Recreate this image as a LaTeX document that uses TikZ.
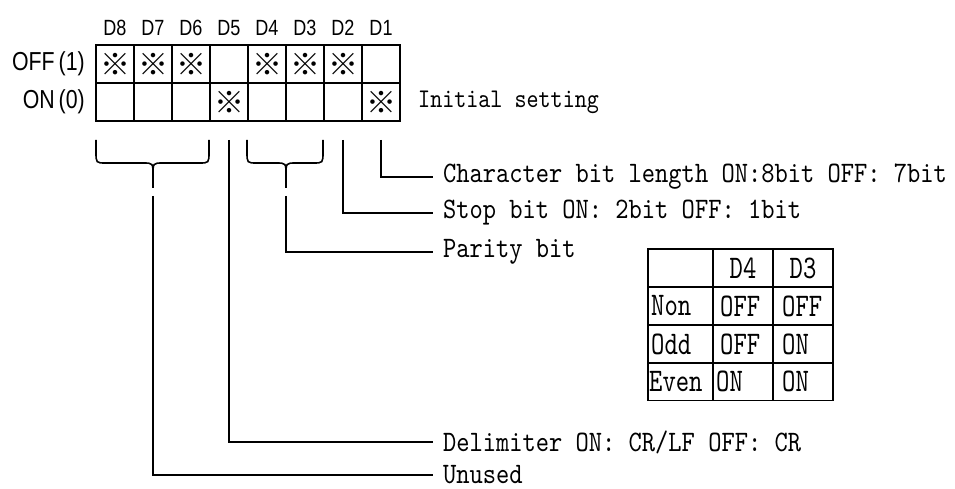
\documentclass[tikz,border=0pt]{standalone}
\usepackage{fontspec}
\setmainfont{lmmono10-regular.otf}
\newfontfamily\lblfont{lmmono10-regular.otf}[FakeStretch=0.85]
\newfontfamily\tblfont{lmmono10-regular.otf}[FakeStretch=0.77]
\newfontfamily\hdrfont{Liberation Sans}[FakeStretch=0.82]
\newfontfamily\markfont{Noto Sans CJK JP}
\begin{document}
\begin{tikzpicture}[x=1pt,y=-1pt,
  lw/.style={line width=1.6pt},
  cell/.style={draw,lw,minimum width=38pt,minimum height=38pt,inner sep=0pt,outer sep=0pt,
     font=\markfont\fontsize{30}{30}\selectfont},
  hdr/.style={inner sep=0pt,font=\hdrfont\fontsize{22}{22}\selectfont},
  rowlbl/.style={inner sep=0pt,anchor=east,font=\hdrfont\fontsize{26}{26}\selectfont},
  lbl/.style={inner sep=0pt,anchor=west,font=\lblfont\fontsize{29.7}{29.7}\selectfont},
  tcell/.style={draw,lw,minimum height=37.75pt,inner sep=0pt,outer sep=0pt},
  ttxt/.style={inner sep=0pt,font=\tblfont\fontsize{33}{33}\selectfont},
  conn/.style={lw}
]
\useasboundingbox (0,0) rectangle (955,489);
% bit grid
\foreach \i/\n/\off/\on in {1/8/※/,2/7/※/,3/6/※/,4/5//※,5/4/※/,6/3/※/,7/2/※/,8/1//※}{
  \pgfmathsetmacro{\cx}{96+38*(\i-0.5)}
  \node[hdr] (h\n) at (\cx,28) {D\n};
  \node[cell] (off\n) at (\cx,64) {\off};
  \node[cell] (on\n) at (\cx,102) {\on};
}
\node[rowlbl] (offlbl) at (85,64) {OFF\hspace{4pt}(1)};
\node[rowlbl] (onlbl) at (85,102) {ON\hspace{4pt}(0)};
\node[lbl,font=\lblfont\fontsize{27}{27}\selectfont] (init) at (418,102) {Initial setting};

% braces
\draw[lw] (96,140) -- (96,152) .. controls (96,163) .. (106,163) -- (143,163)
  .. controls (153,163) .. (153,175) -- (153,188);
\draw[lw] (209,140) -- (209,152) .. controls (209,163) .. (199,163) -- (163,163)
  .. controls (153,163) .. (153,175);
\draw[lw] (247,140) -- (247,152) .. controls (247,163) .. (257,163) -- (276,163)
  .. controls (286,163) .. (286,175) -- (286,188);
\draw[lw] (323,140) -- (323,152) .. controls (323,163) .. (313,163) -- (296,163)
  .. controls (286,163) .. (286,175);

\coordinate (b876) at (153,196);
\coordinate (b43) at (286,196);
\coordinate (b5) at (229,140);
\coordinate (b2) at (343,140);
\coordinate (b1) at (381,140);

% labels
\node[lbl] (lchar) at (443,177) {Character bit length ON:8bit OFF: 7bit};
\node[lbl] (lstop) at (443,213) {Stop bit ON: 2bit OFF: 1bit};
\node[lbl] (lpar) at (443,252) {Parity bit};
\node[lbl] (ldel) at (443,442) {Delimiter ON: CR/LF OFF: CR};
\node[lbl] (lunu) at (443,475) {Unused};

\draw[conn] (b1) |- ([xshift=-10pt]lchar.west);
\draw[conn] (b2) |- ([xshift=-10pt]lstop.west);
\draw[conn] (b43) |- ([xshift=-10pt]lpar.west);
\draw[conn] (b5) |- ([xshift=-10pt]ldel.west);
\draw[conn] (b876) |- ([xshift=-10pt]lunu.west);

% parity table
\foreach \r/\y in {1/268,2/306,3/344,4/381.5}{
  \node[tcell,minimum width=65pt] (t\r a) at (680.5,\y) {};
  \node[tcell,minimum width=60pt] (t\r b) at (743,\y) {};
  \node[tcell,minimum width=60pt] (t\r c) at (803,\y) {};
}
\node[ttxt] at (t1b) {D4};
\node[ttxt] at (t1c) {D3};
\node[ttxt,anchor=west] at ([xshift=3pt]t2a.west) {Non};
\node[ttxt,anchor=west] at ([xshift=3pt]t3a.west) {Odd};
\node[ttxt,anchor=west] at ([xshift=1pt]t4a.west) {Even};
\node[ttxt,anchor=west] at ([xshift=7pt]t2b.west) {OFF};
\node[ttxt,anchor=west] at ([xshift=7pt]t3b.west) {OFF};
\node[ttxt,anchor=west] at ([xshift=3pt]t4b.west) {ON};
\node[ttxt,anchor=west] at ([xshift=9pt]t2c.west) {OFF};
\node[ttxt,anchor=west] at ([xshift=9pt]t3c.west) {ON};
\node[ttxt,anchor=west] at ([xshift=9pt]t4c.west) {ON};
\end{tikzpicture}
\end{document}
